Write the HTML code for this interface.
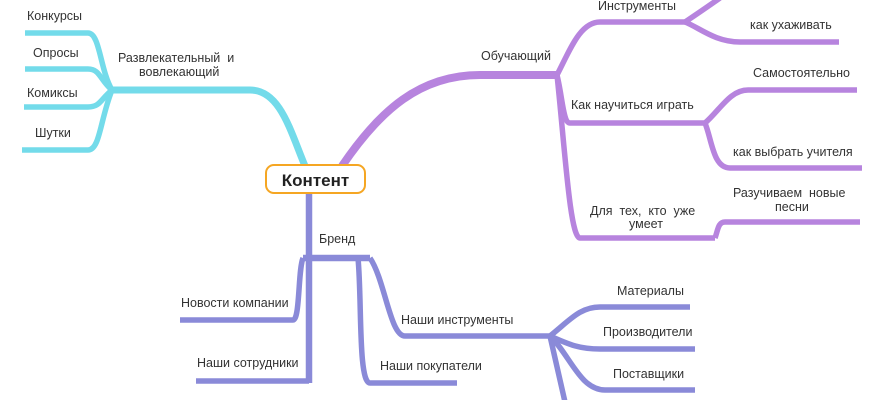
<!DOCTYPE html>
<html><head><meta charset="utf-8"><style>
html,body{margin:0;padding:0;background:#fff;width:870px;height:400px;overflow:hidden}
svg text{font-family:"Liberation Sans",sans-serif;font-size:12.5px;fill:#333;white-space:pre}
</style></head><body>
<svg width="870" height="400" viewBox="0 0 870 400" xmlns="http://www.w3.org/2000/svg">
<g fill="none" stroke-linecap="butt">
<g stroke="#73dbea">
<path d="M305 166 C290 130 280 90 250 90 L112 90" stroke-width="7"/>
<path d="M112 90 C100 70 100 33 88 33 L25 33" stroke-width="5.5"/>
<path d="M112 90 C100 80 100 69 88 69 L25 69" stroke-width="5.5"/>
<path d="M112 90 C100 100 100 107 88 107 L24 107" stroke-width="5.5"/>
<path d="M112 90 C100 120 100 150 88 150 L22 150" stroke-width="5.5"/>
</g>
<g stroke="#b784de">
<path d="M342 166 C380 110 420 75 480 75 L557 75" stroke-width="8"/>
<path d="M557 75 C570 50 580 22 600 22 L685 22" stroke-width="5.5"/>
<path d="M685 22 C700 12 710 5 720 -2" stroke-width="5.5"/>
<path d="M685 22 C700 28 715 42 740 42 L839 42" stroke-width="5.5"/>
<path d="M557 75 C563 100 563 123 570 123 L705 123" stroke-width="5.5"/>
<path d="M705 123 C720 110 730 90 748 90 L857 90" stroke-width="5.5"/>
<path d="M705 123 C712 140 713 168 730 168 L862 168" stroke-width="5.5"/>
<path d="M557 75 C565 150 570 238 580 238 L715 238" stroke-width="5.5"/>
<path d="M715 238 C718 230 718 222 725 222 L860 222" stroke-width="5.5"/>
</g>
<g stroke="#8a8ad8">
<path d="M309 193 L309 383" stroke-width="6.5"/>
<path d="M303 258 L370 258" stroke-width="6.5"/>
<path d="M303 258 C298 270 300 320 293 320 L180 320" stroke-width="5.5"/>
<path d="M309 381 L196 381" stroke-width="5.5"/>
<path d="M358 258 C362 300 358 383 370 383 L457 383" stroke-width="5.5"/>
<path d="M370 258 C385 280 390 336 405 336 L550 336" stroke-width="5.5"/>
<path d="M550 336 C570 320 580 307 600 307 L690 307" stroke-width="5.5"/>
<path d="M550 336 C570 345 580 349 600 349 L695 349" stroke-width="5.5"/>
<path d="M550 336 C570 355 580 390 605 390 L695 390" stroke-width="5.5"/>
<path d="M550 336 L565 402" stroke-width="5.5"/>
</g>
</g>
<rect x="266" y="165" width="99" height="28" rx="8" fill="#fff" stroke="#f5a623" stroke-width="2"/>
<text x="315.5" y="186" text-anchor="middle" style="font-size:17px;font-weight:bold;fill:#222">Контент</text>
<text x="27" y="20">Конкурсы</text>
<text x="33" y="57">Опросы</text>
<text x="27" y="97">Комиксы</text>
<text x="35" y="137">Шутки</text>
<text x="118" y="62">Развлекательный  и</text>
<text x="139" y="76">вовлекающий</text>
<text x="481" y="60">Обучающий</text>
<text x="598" y="10">Инструменты</text>
<text x="750" y="29">как ухаживать</text>
<text x="753" y="77">Самостоятельно</text>
<text x="571" y="109">Как научиться играть</text>
<text x="733" y="156">как выбрать учителя</text>
<text x="733" y="197">Разучиваем  новые</text>
<text x="775" y="211">песни</text>
<text x="590" y="215">Для  тех,  кто  уже</text>
<text x="629" y="228">умеет</text>
<text x="319" y="243">Бренд</text>
<text x="181" y="307">Новости компании</text>
<text x="197" y="367">Наши сотрудники</text>
<text x="380" y="370">Наши покупатели</text>
<text x="401" y="324">Наши инструменты</text>
<text x="617" y="295">Материалы</text>
<text x="603" y="336">Производители</text>
<text x="613" y="378">Поставщики</text>
</svg>
</body></html>
